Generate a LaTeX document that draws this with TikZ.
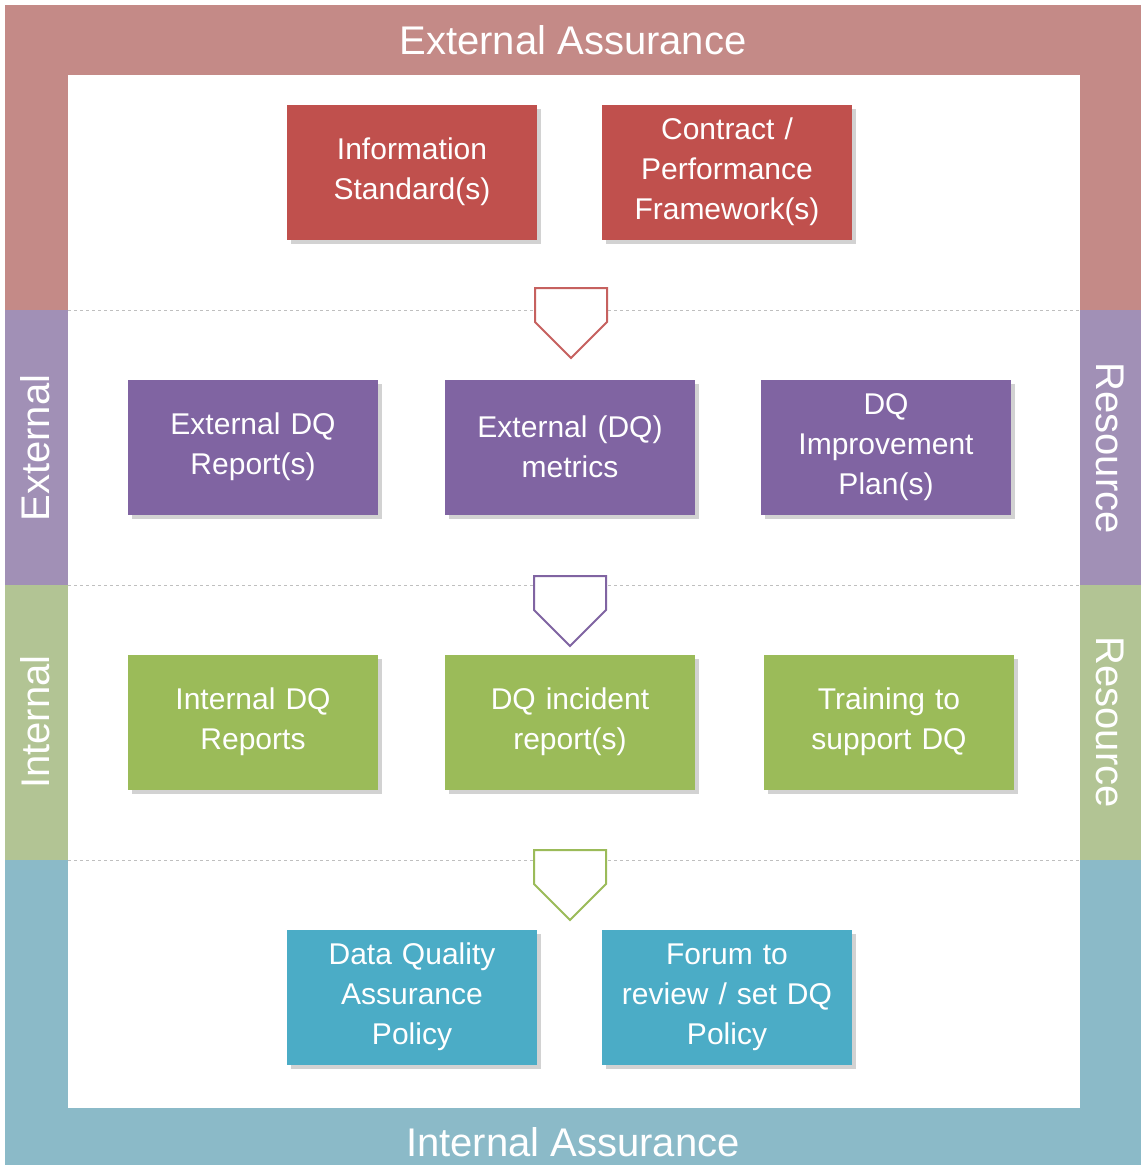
\documentclass[tikz,border=0pt]{standalone}
\usepackage{fontspec}
\setmainfont{Liberation Sans}
\usetikzlibrary{shadows,shapes.arrows}
\definecolor{bred}{HTML}{C48A87}
\definecolor{bpur}{HTML}{A190B6}
\definecolor{bgrn}{HTML}{B2C494}
\definecolor{bblu}{HTML}{8BBAC8}
\definecolor{kred}{HTML}{C0504D}
\definecolor{kpur}{HTML}{8064A2}
\definecolor{kgrn}{HTML}{9BBB59}
\definecolor{kblu}{HTML}{4BACC6}
\begin{document}
\begin{tikzpicture}[x=1pt,y=-1pt,
 box/.style={minimum width=250pt,minimum height=135pt,text width=230pt,align=center,text=white,font=\fontsize{30}{40}\selectfont,inner sep=0pt,drop shadow={shadow xshift=4pt,shadow yshift=-4pt,opacity=0.35}},
 band/.style={text=white,font=\fontsize{40}{44}\selectfont},
 arr/.style={single arrow,draw,fill=white,line width=2pt,shape border rotate=270,minimum width=72pt,single arrow head extend=0pt,minimum height=70pt,inner sep=0pt,single arrow tip angle=90}]
\useasboundingbox (0,0) rectangle (1144,1168);
\fill[bred] (5,5) rectangle (1141,310);
\fill[bpur] (5,310) rectangle (1141,585);
\fill[bgrn] (5,585) rectangle (1141,860);
\fill[bblu] (5,860) rectangle (1141,1165);
\fill[white] (68,75) rectangle (1080,1108);
\foreach \y in {310,585,860} \draw[gray!50,dashed,line width=1pt] (68,\y) -- (1080,\y);
\node[band] (ea) at (573,40) {External Assurance};
\node[band] (ia) at (573,1142) {Internal Assurance};
\node[band,rotate=90] (ex) at (35,448) {External};
\node[band,rotate=90] (in) at (35,722) {Internal};
\node[band,rotate=-90] (r1) at (1110,448) {Resource};
\node[band,rotate=-90] (r2) at (1110,722) {Resource};
\node[box,fill=kred] (a1) at (412,172) {Information\\Standard(s)};
\node[box,fill=kred] (a2) at (727,172) {Contract /\\Performance\\Framework(s)};
\node[box,fill=kpur] (b1) at (253,447) {External DQ\\Report(s)};
\node[box,fill=kpur] (b2) at (570,447) {External (DQ)\\metrics};
\node[box,fill=kpur] (b3) at (886,447) {DQ\\Improvement\\Plan(s)};
\node[box,fill=kgrn] (c1) at (253,722) {Internal DQ\\Reports};
\node[box,fill=kgrn] (c2) at (570,722) {DQ incident\\report(s)};
\node[box,fill=kgrn] (c3) at (889,722) {Training to\\support DQ};
\node[box,fill=kblu] (d1) at (412,997) {Data Quality\\Assurance\\Policy};
\node[box,fill=kblu] (d2) at (727,997) {Forum to\\review / set DQ\\Policy};
\node[arr,draw=kred!90] (p1) at (571,305) {};
\node[arr,draw=kpur] (p2) at (570,593) {};
\node[arr,draw=kgrn] (p3) at (570,867) {};
\end{tikzpicture}
\end{document}
